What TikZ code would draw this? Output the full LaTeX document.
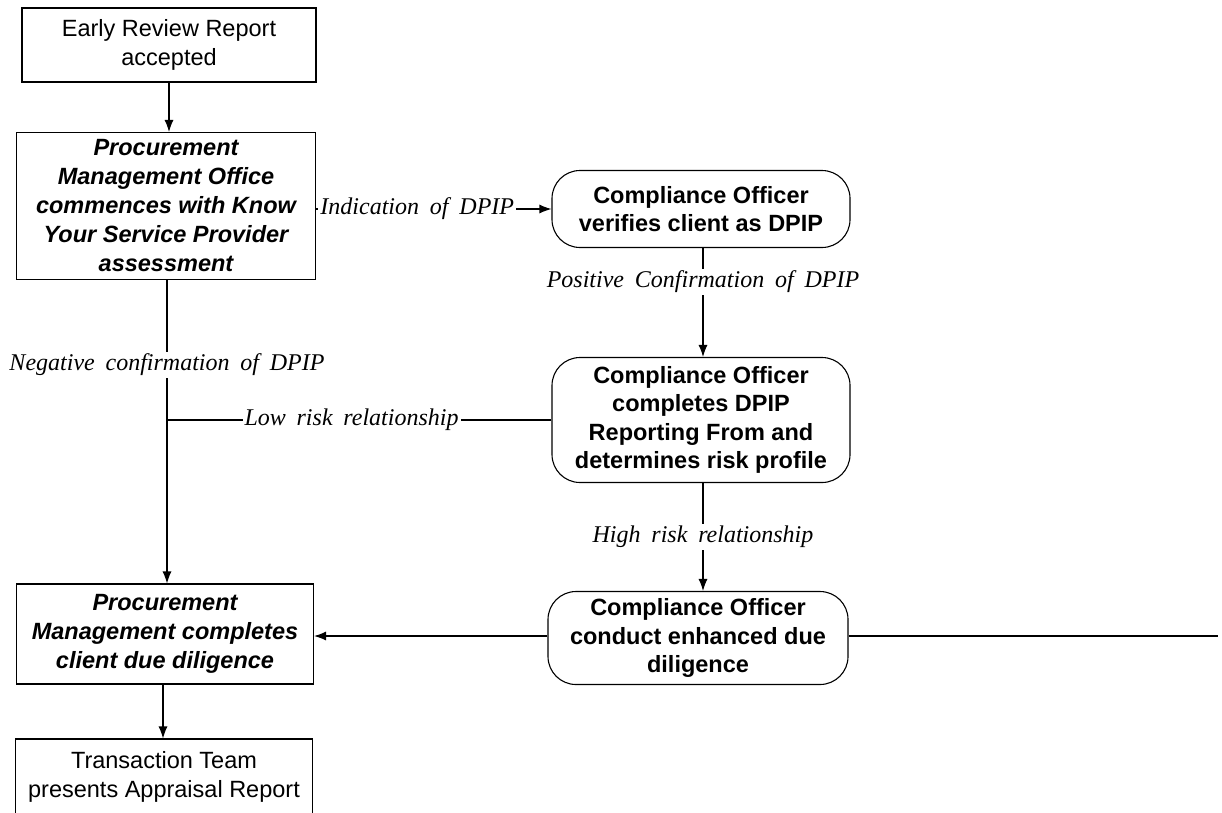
\documentclass[tikz,border=0pt]{standalone}
\usepackage{fontspec}
\setmainfont{Liberation Sans}
\newfontfamily\labelfont[WordSpace=1.8]{Liberation Serif}
\usetikzlibrary{arrows.meta}
\tikzset{
  box/.style={draw, line width=1.1pt, align=center, inner sep=0pt,
    font=\fontsize{23.5}{28.5}\selectfont},
  plainbox/.style={box},
  procbox/.style={box, font=\fontsize{23.5}{29}\selectfont\bfseries\itshape},
  roundbox/.style={box, rounded corners=28pt, font=\fontsize{23.5}{28.5}\selectfont\bfseries},
  conn/.style={line width=1.1pt},
  arr/.style={conn, -{Latex[length=12pt,width=9pt]}},
  lab/.style={fill=white, inner sep=2pt, font=\labelfont\fontsize{24}{28}\selectfont\itshape}
}
\begin{document}
\begin{tikzpicture}[x=1pt,y=-1pt]
\useasboundingbox (0,0) rectangle (1222,812);
\node[plainbox, minimum width=294pt, minimum height=74pt] (b1) at (169,45) {Early Review Report\\accepted};
\node[procbox, minimum width=299pt, minimum height=147pt] (b2) at (166,206) {Procurement\\Management Office\\commences with Know\\Your Service Provider\\assessment};
\node[roundbox, minimum width=298pt, minimum height=77pt] (b3) at (701,209) {Compliance Officer\\verifies client as DPIP};
\node[roundbox, minimum width=298pt, minimum height=125pt] (b4) at (701,420) {Compliance Officer\\completes DPIP\\Reporting From and\\determines risk profile};
\node[roundbox, minimum width=300pt, minimum height=93pt] (b5) at (698,638) {Compliance Officer\\conduct enhanced due\\diligence};
\node[procbox, minimum width=297pt, minimum height=100pt] (b6) at (165,634) {Procurement\\Management completes\\client due diligence};
\node[plainbox, minimum width=297pt, minimum height=76pt] (b7) at (164,777) {Transaction Team\\presents Appraisal Report};
\coordinate (j) at (167,420);
\coordinate (e) at (1218,636);
\coordinate (x169) at (169,0);
\coordinate (x703) at (703,0);
\coordinate (x167) at (167,0);
\coordinate (x163) at (163,0);
\coordinate (y209) at (0,209);
\coordinate (y636) at (0,636);

\draw[arr] (b1.south -| x169) -- (b2.north -| x169);
\draw[arr] (b2.east |- y209) -- node[lab, pos=0.43] {Indication of DPIP} (b3.west |- y209);
\draw[arr] (b3.south -| x703) -- node[lab, pos=0.31] {Positive Confirmation of DPIP} (b4.north -| x703);
\draw[arr] (b4.south -| x703) -- node[lab, pos=0.5] {High risk relationship} (b5.north -| x703);
\draw[arr] (b2.south -| x167) -- node[lab, pos=0.28] {Negative confirmation of DPIP} (b6.north -| x167);
\draw[conn] (b4.west) -- node[lab, pos=0.52] {Low risk relationship} (j);
\draw[arr] (b5.west |- y636) -- (b6.east |- y636);
\draw[conn] (b5.east |- y636) -- (e);
\draw[arr] (b6.south -| x163) -- (b7.north -| x163);
\end{tikzpicture}
\end{document}
